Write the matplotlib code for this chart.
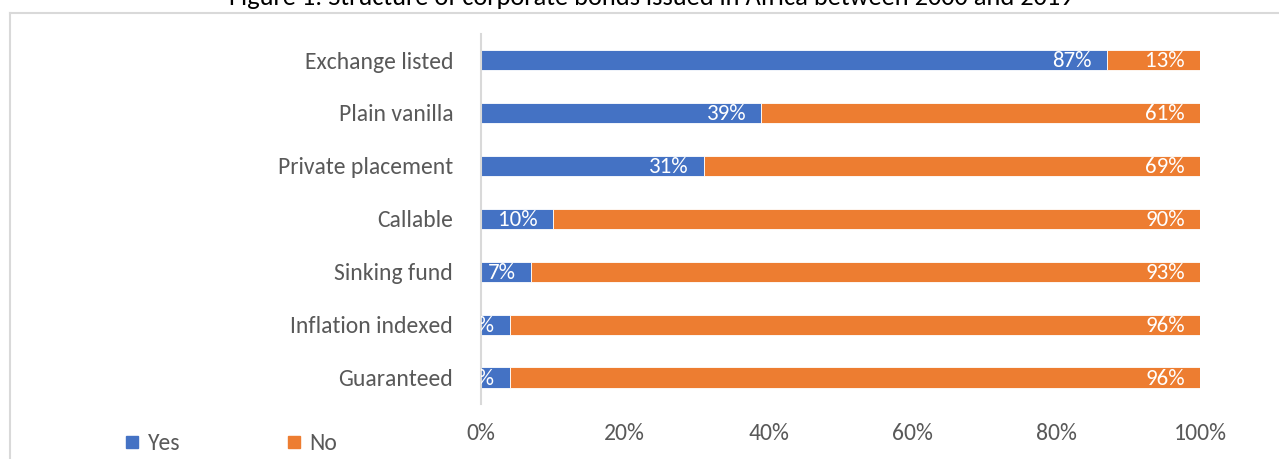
import matplotlib.pyplot as plt
import numpy as np
from matplotlib.lines import Line2D

categories = ['Guaranteed', 'Inflation indexed', 'Sinking fund', 'Callable',
              'Private placement', 'Plain vanilla', 'Exchange listed']
yes = [4, 4, 7, 10, 31, 39, 87]
no = [96, 96, 93, 90, 69, 61, 13]
title = 'Figure 1: Structure of corporate bonds issued in Africa between 2000 and 2019'

blue = '#4472C4'
orange = '#ED7D31'
grey = '#595959'
plt.rcParams['font.family'] = ['Carlito', 'Lato', 'DejaVu Sans']

W, H = 1279, 459
fig = plt.figure(figsize=(W / 100, H / 100), dpi=100)
ax = fig.add_axes([481 / W, 1 - 404 / H, (1200 - 481) / W, (404 - 33.6) / H])

y = np.arange(len(categories))
b1 = ax.barh(y, yes, 0.38, color=blue, edgecolor='white', linewidth=0.6, label='Yes')
b2 = ax.barh(y, no, 0.38, left=yes, color=orange, edgecolor='white', linewidth=0.6, label='No')

# data labels at the inside end of each segment
for rects, vals in [(b1, yes), (b2, no)]:
    for r, v in zip(rects, vals):
        xe = r.get_x() + r.get_width()
        ax.annotate(f'{v}%', (xe, r.get_y() + r.get_height() / 2),
                    xytext=(-15, -1), textcoords='offset pixels',
                    ha='right', va='center', color='white', fontsize=16.5,
                    clip_on=True)

ax.set_xlim(0, 100)
ax.set_ylim(-0.5, len(categories) - 0.5)
ax.set_yticks(y)
ax.set_yticklabels(categories, fontsize=17, color=grey)
ax.set_xticks(np.arange(0, 101, 20))
ax.set_xticklabels([f'{t}%' for t in range(0, 101, 20)], fontsize=17, color=grey)
ax.tick_params(axis='y', length=0, pad=20)
ax.tick_params(axis='x', length=0, pad=14)
for s in ['top', 'right', 'bottom']:
    ax.spines[s].set_visible(False)
ax.spines['left'].set_color('#D9D9D9')
ax.spines['left'].set_linewidth(1.5)

handles = [Line2D([], [], marker='s', linestyle='', markersize=8.6, color=blue),
           Line2D([], [], marker='s', linestyle='', markersize=8.6, color=orange)]
fig.legend(handles, ['Yes', 'No'], loc='center left', bbox_to_anchor=(114.6 / W, 1 - 444 / H),
           ncol=2, frameon=False, fontsize=17, labelcolor=grey, handlelength=0.7,
           handletextpad=0.3, columnspacing=4.47, borderaxespad=0)

# chart border (partly cut off)
fig.add_artist(Line2D([10 / W, 1], [1 - 13 / H, 1 - 13 / H], color='#D9D9D9', lw=1.5))
fig.add_artist(Line2D([10 / W, 10 / W], [1 - 13 / H, 0], color='#D9D9D9', lw=1.5))

fig.text(651 / W, 1 - 5 / H, title, ha='center', va='baseline', fontsize=19, color='black')

fig.savefig('out.png', dpi=100)
